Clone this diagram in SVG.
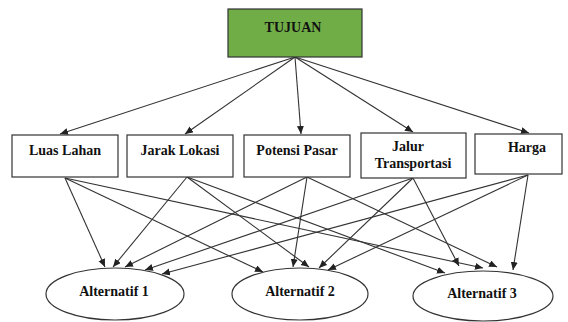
<svg xmlns="http://www.w3.org/2000/svg" width="568" height="322" viewBox="0 0 568 322">
<style>
.box{fill:#fff;stroke:#333;stroke-width:1.2}
.t{font-family:"Liberation Serif","Times New Roman",serif;font-weight:bold;font-size:14px;fill:#111;text-anchor:middle}
.e line{stroke:#333;stroke-width:1.1;marker-end:url(#ah)}
</style>
<defs>
<marker id="ah" markerUnits="userSpaceOnUse" markerWidth="9" markerHeight="8" refX="8" refY="3.5" orient="auto">
<path d="M0,0 L8,3.5 L0,7 z" fill="#222"/>
</marker>
</defs>
<g id="edges" class="e">
<line x1="295" y1="57" x2="60" y2="134"/>
<line x1="295" y1="57" x2="185" y2="134"/>
<line x1="295" y1="57" x2="301" y2="134"/>
<line x1="295" y1="57" x2="413" y2="132"/>
<line x1="295" y1="57" x2="529" y2="133"/>
<line x1="65" y1="178" x2="105" y2="267"/>
<line x1="65" y1="178" x2="263" y2="272"/>
<line x1="65" y1="178" x2="483" y2="268"/>
<line x1="187" y1="177" x2="113" y2="267"/>
<line x1="187" y1="177" x2="309" y2="267"/>
<line x1="187" y1="177" x2="445" y2="273"/>
<line x1="307" y1="177" x2="125" y2="267"/>
<line x1="307" y1="177" x2="293" y2="267"/>
<line x1="307" y1="177" x2="497" y2="267"/>
<line x1="413" y1="178" x2="145" y2="270"/>
<line x1="413" y1="178" x2="319" y2="268"/>
<line x1="413" y1="178" x2="459" y2="266"/>
<line x1="528" y1="175" x2="162" y2="274"/>
<line x1="528" y1="175" x2="328" y2="270"/>
<line x1="528" y1="175" x2="513" y2="270"/>
</g>
<g id="tujuan">
<rect x="228" y="9" width="134" height="48" fill="#70AD47" stroke="#333" stroke-width="1.2"/>
<text class="t" x="293" y="32">TUJUAN</text>
</g>
<g id="luas-lahan">
<rect class="box" x="12" y="135" width="106" height="42"/>
<text class="t" x="65" y="155">Luas Lahan</text>
</g>
<g id="jarak-lokasi">
<rect class="box" x="127" y="135" width="106" height="42"/>
<text class="t" x="180" y="155">Jarak Lokasi</text>
</g>
<g id="potensi-pasar">
<rect class="box" x="244" y="135" width="106" height="42"/>
<text class="t" x="297" y="155">Potensi Pasar</text>
</g>
<g id="jalur-transportasi">
<rect class="box" x="361" y="133" width="105" height="45"/>
<text class="t" x="408" y="151">Jalur</text>
<text class="t" x="413" y="168">Transportasi</text>
</g>
<g id="harga">
<rect class="box" x="475" y="134" width="87" height="40"/>
<text class="t" x="527" y="152">Harga</text>
</g>
<g id="alternatif-1">
<ellipse class="box" cx="115" cy="294" rx="69" ry="26"/>
<text class="t" x="114" y="296">Alternatif 1</text>
</g>
<g id="alternatif-2">
<ellipse class="box" cx="300" cy="294" rx="68" ry="26"/>
<text class="t" x="300" y="296">Alternatif 2</text>
</g>
<g id="alternatif-3">
<ellipse class="box" cx="483" cy="296" rx="70" ry="25"/>
<text class="t" x="482" y="298">Alternatif 3</text>
</g>
</svg>
